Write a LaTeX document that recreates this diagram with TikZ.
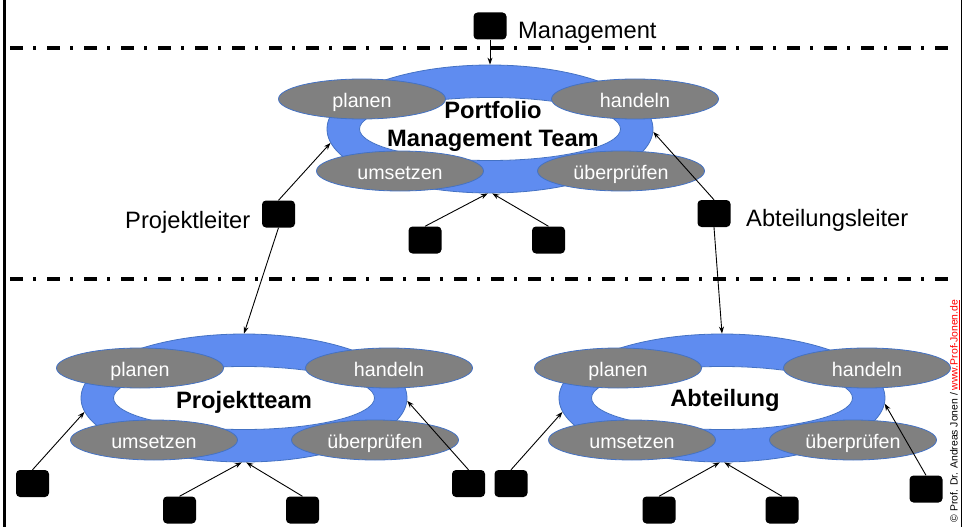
\documentclass[tikz,border=0pt]{standalone}
\usepackage{fontspec}
\setmainfont{Liberation Sans}
\usetikzlibrary{shapes.geometric,arrows.meta}

\definecolor{ringblue}{RGB}{95,140,240}
\definecolor{ringline}{RGB}{68,114,196}
\definecolor{phasegray}{RGB}{128,128,128}

\tikzset{
  ringouter/.style={ellipse, fill=ringblue, draw=ringline, line width=0.8pt,
    minimum width=326, minimum height=128, inner sep=0pt},
  ringinner/.style={ellipse, fill=white, draw=ringline, line width=0.8pt,
    minimum width=261, minimum height=63, inner sep=0pt},
  phase/.style={ellipse, fill=phasegray, draw=ringline, line width=0.8pt,
    minimum width=167, minimum height=40, inner sep=0pt, text=white,
    text height=16pt, text depth=0pt,
    font=\fontsize{19.7}{22}\selectfont},
  title/.style={font=\fontsize{23.7}{28}\selectfont\bfseries, align=center, inner sep=0pt},
  role/.style={font=\fontsize{23.7}{28}\selectfont, inner sep=0pt, anchor=west},
  member/.style={fill=black, rounded corners=4pt, minimum width=33, minimum height=27, inner sep=0pt},
  conn/.style={line width=0.9pt, -{Stealth[length=7pt,width=5pt]}},
  levelline/.style={line width=3.5pt, dash pattern=on 13pt off 10pt on 3pt off 11pt}
}

% one plan-do-check-act ring: #1 name, #2 centre, #3 x offset of "planen"
\newcommand\pdcaring[3]{%
  \begin{scope}[shift={#2}]
    \node[ringouter] (#1) at (0,0) {};
    \node[ringinner] (#1in) at (0,0) {};
    \node[phase] (#1pl) at (#3,-30) {planen};
    \node[phase] (#1ha) at (145,-30) {handeln};
    \node[phase] (#1um) at (-90,42) {umsetzen};
    \node[phase] (#1ue) at (131,42) {überprüfen};
  \end{scope}}

\begin{document}
\begin{tikzpicture}[x=1pt, y=-1pt]
\useasboundingbox (0,0) rectangle (962,527);

% frame lines at the sides
\draw[line width=3pt] (4.5,0) -- (4.5,527);
\draw[line width=1.2pt] (961.4,0) -- (961.4,527);

% level separators
\draw[levelline] (10,48) -- (956,48);
\draw[levelline] (10,279) -- (956,279);

% the three rings
\pdcaring{top}{(490,129)}{-128}
\node[title] (toptitle) at (493,126) {Portfolio\\Management Team};
\pdcaring{pt}{(244,398)}{-104}
\node[title] (pttitle) at (244,402) {Projektteam};
\pdcaring{ab}{(722,398)}{-104}
\node[title] (abtitle) at (725,400) {Abteilung};

% roles
\node[member] (mg) at (490,26) {};
\node[role] (mglabel) at (518,33) {Management};
\node[member] (pl) at (278.5,214) {};
\node[role] (pllabel) at (125,222) {Projektleiter};
\node[member] (al) at (714,213.5) {};
\node[role] (allabel) at (746,220) {Abteilungsleiter};

% team members
\node[member] (p1) at (425,240) {};
\node[member] (p2) at (548.5,240) {};
\node[member] (t1) at (32.5,483.5) {};
\node[member] (t2) at (179.5,510) {};
\node[member] (t3) at (302.5,510) {};
\node[member] (t4) at (468.5,483.5) {};
\node[member] (a1) at (511,483.5) {};
\node[member] (a2) at (659,510) {};
\node[member] (a3) at (782,510) {};
\node[member] (a4) at (926,489) {};

% connectors
\draw[conn] (mg.south) -- (top.north);
\draw[conn] (pl.north) -- (top.185);
\draw[conn] (pl.south) -- (pt.north);
\draw[conn] (al.north) -- (top.359);
\draw[conn] (al.south) -- (ab.north);
\draw[conn] (p1.north) -- (top.268);
\draw[conn] (p2.north) -- (top.272);
\draw[conn] (t1.north) -- (pt.185);
\draw[conn] (t2.north) -- (pt.268);
\draw[conn] (t3.north) -- (pt.272);
\draw[conn] (t4.north) -- (pt.359);
\draw[conn] (a1.north) -- (ab.185);
\draw[conn] (a2.north) -- (ab.268);
\draw[conn] (a3.north) -- (ab.272);
\draw[conn] (a4.north) -- (ab.358);

% copyright note
\node[rotate=90, inner sep=0pt, font=\fontsize{10.4}{12}\selectfont] (copy) at (955,411)
  {© Prof. Dr. Andreas Jonen / {\color{red}\underline{www.Prof-Jonen.de}}};
\end{tikzpicture}
\end{document}
